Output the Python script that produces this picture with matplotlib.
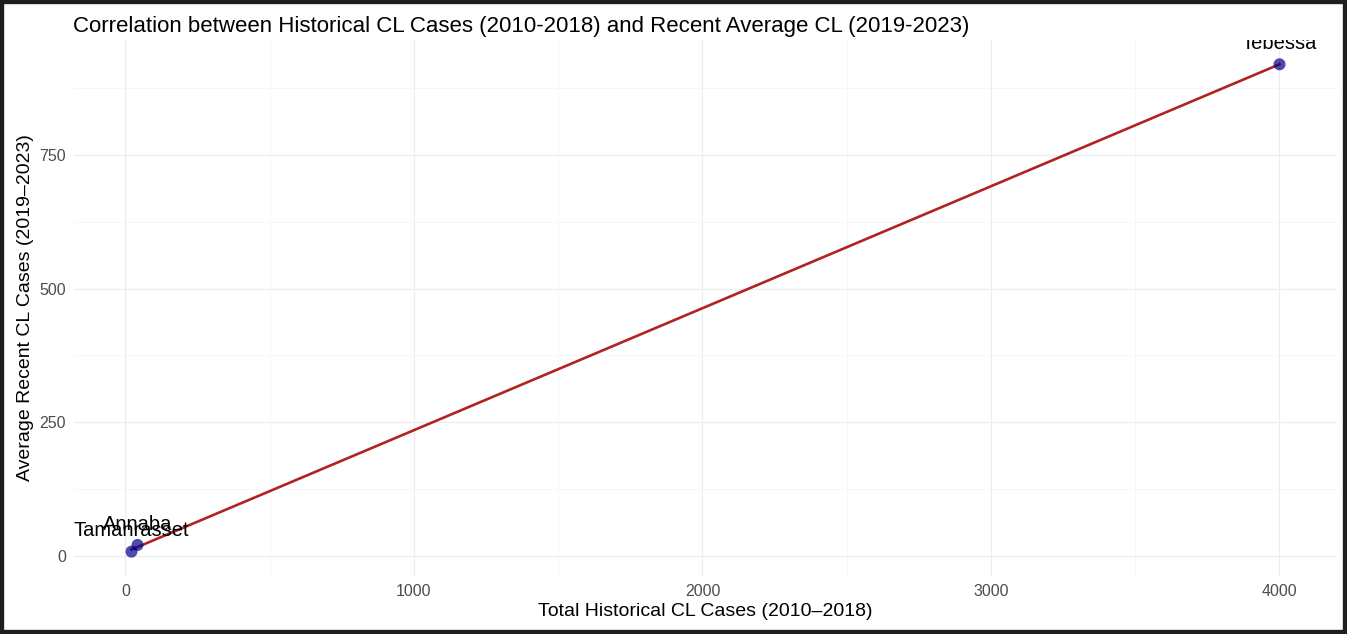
import numpy as np
import matplotlib
matplotlib.use("Agg")
import matplotlib.pyplot as plt
from matplotlib.patches import Rectangle

plt.rcParams["font.family"] = ["Liberation Sans", "DejaVu Sans"]

# data
regions = ["Tamanrasset", "Annaba", "Tebessa"]
historical_total = [21, 42, 4000]
recent_average = [7.5, 20, 920]

x_ticks = [0, 1000, 2000, 3000, 4000]
y_ticks = [0, 250, 500, 750]


def plot_correlation(save_path):
    fig = plt.figure(figsize=(13.47, 6.34), dpi=100)
    ax = fig.add_axes([0.055, 0.0915, 0.9375, 0.8455])

    x = np.array(historical_total, dtype=float)
    y = np.array(recent_average, dtype=float)

    # linear fit like geom_smooth(method = "lm")
    slope, intercept = np.polyfit(x, y, 1)
    xs = np.linspace(x.min(), x.max(), 100)
    ax.plot(xs, slope * xs + intercept, color="#B22222", linewidth=1.9, zorder=3)

    ax.scatter(x, y, s=75, color="darkblue", alpha=0.7, edgecolors="none", zorder=4)

    for name, xi, yi in zip(regions, x, y):
        ax.annotate(name, (xi, yi), xytext=(0, 11), textcoords="offset points",
                    ha="center", va="baseline", fontsize=14.5, color="black",
                    annotation_clip=False, clip_on=True, zorder=5)

    # ggplot-like expansion of 5%
    xr = x.max() - x.min()
    yr = y.max() - y.min()
    ax.set_xlim(x.min() - 0.05 * xr, x.max() + 0.05 * xr)
    ax.set_ylim(y.min() - 0.05 * yr, y.max() + 0.05 * yr)

    ax.set_xticks(x_ticks)
    ax.set_yticks(y_ticks)
    ax.set_xticks([500, 1500, 2500, 3500], minor=True)
    ax.set_yticks([125, 375, 625, 875], minor=True)
    ax.grid(which="major", color="#ededed", linewidth=0.9)
    ax.grid(which="minor", color="#f5f5f5", linewidth=0.6)
    ax.set_axisbelow(True)
    ax.tick_params(which="both", length=0, labelsize=11.5, labelcolor="#4d4d4d", pad=6)
    for spine in ax.spines.values():
        spine.set_visible(False)

    ax.set_title("Correlation between Historical CL Cases (2010-2018) and Recent Average CL (2019-2023)",
                 fontsize=16, loc="left", x=-0.001, pad=6)
    ax.set_xlabel("Total Historical CL Cases (2010\u20132018)", fontsize=14, labelpad=3)
    ax.set_ylabel("Average Recent CL Cases (2019\u20132023)", fontsize=14, labelpad=4)

    # dark frame around the screenshot
    fig.patches.append(Rectangle((0, 0), 1, 1, transform=fig.transFigure, fill=False,
                                 edgecolor="#1e1e1e", linewidth=6))

    fig.savefig(save_path, dpi=100)
    plt.close(fig)


if __name__ == "__main__":
    plot_correlation("out.png")
